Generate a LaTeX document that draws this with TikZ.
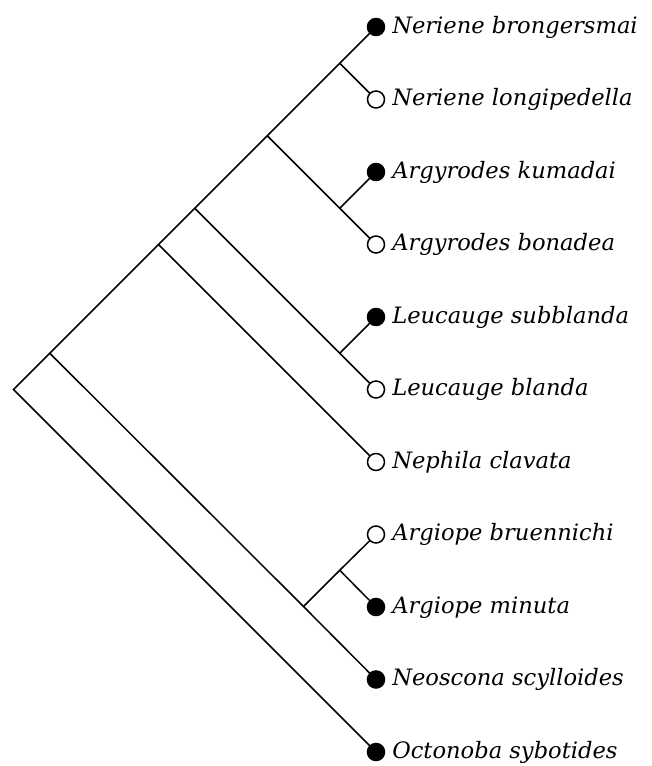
\documentclass[tikz,border=0pt]{standalone}
\usepackage{fontspec}
\setmainfont{DejaVu Serif}
\usetikzlibrary{positioning}

\begin{document}
\begin{tikzpicture}[
    x=1pt, y=-1pt,
    line width=1.5pt,
    taxon/.style={draw, circle, minimum size=17pt, inner sep=0pt, outer sep=0pt},
    taxfull/.style={taxon, fill=black},
    taxopen/.style={taxon, fill=white},
    species/.style={right=7pt of #1, anchor=base west, yshift=-6pt, inner sep=0pt,
        font=\fontsize{22.6}{26}\selectfont\itshape}
]
    \useasboundingbox (0,0) rectangle (651,766);

    % leaves
    \node[taxfull] (brong) at (376,27) {};
    \node[taxopen] (longi) at (376,99.5) {};
    \node[taxfull] (kuma) at (376,172) {};
    \node[taxopen] (bona) at (376,244.5) {};
    \node[taxfull] (subb) at (376,317) {};
    \node[taxopen] (blan) at (376,389.5) {};
    \node[taxopen] (clav) at (376,462) {};
    \node[taxopen] (brue) at (376,534.5) {};
    \node[taxfull] (minu) at (376,607) {};
    \node[taxfull] (scyl) at (376,679.5) {};
    \node[taxfull] (octo) at (376,752) {};

    \node[species=brong] {Neriene brongersmai};
    \node[species=longi] {Neriene longipedella};
    \node[species=kuma] {Argyrodes kumadai};
    \node[species=bona] {Argyrodes bonadea};
    \node[species=subb] {Leucauge subblanda};
    \node[species=blan] {Leucauge blanda};
    \node[species=clav] {Nephila clavata};
    \node[species=brue] {Argiope bruennichi};
    \node[species=minu] {Argiope minuta};
    \node[species=scyl] {Neoscona scylloides};
    \node[species=octo] {Octonoba sybotides};

    % internal nodes
    \coordinate (root) at (13.5,389.5);
    \coordinate (big) at (49.75,353.25);
    \coordinate (neph) at (158.5,244.5);
    \coordinate (leucp) at (194.75,208.25);
    \coordinate (arne) at (267.25,135.75);
    \coordinate (neri) at (339.75,63.25);
    \coordinate (argy) at (339.75,208.25);
    \coordinate (leuc) at (339.75,353.25);
    \coordinate (argneo) at (303.5,606.5);
    \coordinate (argi) at (339.75,570.25);

    \draw (octo) -- (root) -- (big) -- (neph) -- (leucp) -- (arne) -- (neri) -- (brong);
    \draw (neri) -- (longi);
    \draw (arne) -- (argy) -- (bona);
    \draw (argy) -- (kuma);
    \draw (leucp) -- (leuc) -- (blan);
    \draw (leuc) -- (subb);
    \draw (neph) -- (clav);
    \draw (big) -- (argneo) -- (scyl);
    \draw (argneo) -- (argi) -- (brue);
    \draw (argi) -- (minu);
\end{tikzpicture}
\end{document}
